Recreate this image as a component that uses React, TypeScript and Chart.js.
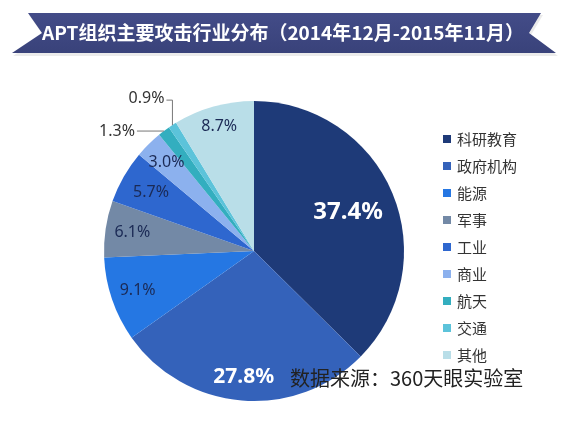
import React, { useEffect, useRef } from "react";
import { Chart, registerables } from "chart.js";

Chart.register(...registerables);

const TITLE = "APT组织主要攻击行业分布（2014年12月-2015年11月）";
const SOURCE = "数据来源：360天眼实验室";
const categories = ["科研教育", "政府机构", "能源", "军事", "工业", "商业", "航天", "交通", "其他"];
const shares = [37.4, 27.8, 9.1, 6.1, 5.7, 3.0, 1.3, 0.9, 8.7];
const colors = ["#1E3A78", "#3462BA", "#2577E3", "#7389A6", "#2E67CF", "#8CB1EE", "#33AEBF", "#5CC3DA", "#B9DEE8"];

// label styling per slice
const labelRadius = [0.68, 0.84, 0.82, 0.82, 0.79, 0.83, 1, 1, 0.86];
const labelColor = ["#FFFFFF", "#FFFFFF", "#1B2A55", "#1B2A55", "#1B2A55", "#1B2A55", "#333333", "#333333", "#1B2A55"];
const NUMF = "'Noto Sans', 'Open Sans', sans-serif";
const labelFont = [
  "bold 24px " + NUMF,
  "bold 21px " + NUMF,
  "16px " + NUMF,
  "16px " + NUMF,
  "16px " + NUMF,
  "16px " + NUMF,
  "16px " + NUMF,
  "16px " + NUMF,
  "16px " + NUMF,
];
// leader style: 0 inside, 1 horizontal-left, 2 up then left
const leaderKind = [0, 0, 0, 0, 0, 0, 1, 2, 0];

const CJK = "'Noto Sans CJK SC', 'Noto Sans', sans-serif";

const bannerPlugin = {
  id: "banner",
  beforeDraw(chart: any) {
    const ctx = chart.ctx;
    ctx.save();
    ctx.fillStyle = "#ffffff";
    ctx.fillRect(0, 0, chart.width, chart.height);
    // shadow
    ctx.fillStyle = "rgba(0,0,0,0.08)";
    ctx.beginPath();
    ctx.moveTo(29, 15);
    ctx.lineTo(543, 15);
    ctx.lineTo(531, 35);
    ctx.lineTo(558, 56);
    ctx.lineTo(13, 56);
    ctx.lineTo(43, 35);
    ctx.closePath();
    ctx.fill();
    const g = ctx.createLinearGradient(0, 13, 0, 53);
    g.addColorStop(0, "#434C88");
    g.addColorStop(1, "#39427A");
    ctx.fillStyle = g;
    ctx.beginPath();
    ctx.moveTo(28, 13);
    ctx.lineTo(541, 13);
    ctx.lineTo(529, 33);
    ctx.lineTo(556, 53);
    ctx.lineTo(12, 53);
    ctx.lineTo(42, 33);
    ctx.closePath();
    ctx.fill();
    ctx.fillStyle = "#ffffff";
    ctx.font = "bold 19px " + CJK;
    ctx.textAlign = "center";
    ctx.textBaseline = "middle";
    ctx.fillText(TITLE, 283, 33);
    ctx.restore();
  },
};

const labelPlugin = {
  id: "sliceLabels",
  afterDatasetsDraw(chart: any) {
    const ctx = chart.ctx;
    const meta = chart.getDatasetMeta(0);
    ctx.save();
    meta.data.forEach((arc: any, i: number) => {
      const p = arc.getProps(["x", "y", "startAngle", "endAngle", "outerRadius"], true);
      const mid = (p.startAngle + p.endAngle) / 2;
      const r = p.outerRadius * labelRadius[i];
      const x = p.x + Math.cos(mid) * r;
      const y = p.y + Math.sin(mid) * r;
      const text = shares[i].toFixed(1) + "%";
      ctx.font = labelFont[i];
      ctx.fillStyle = labelColor[i];
      ctx.textBaseline = "middle";
      if (leaderKind[i] === 0) {
        ctx.textAlign = "center";
        ctx.fillText(text, x, y);
      } else {
        ctx.strokeStyle = "#777777";
        ctx.lineWidth = 1;
        ctx.beginPath();
        ctx.moveTo(x, y);
        let tx = x, ty = y;
        if (leaderKind[i] === 1) {
          ctx.lineTo(x - 27, y);
          tx = x - 29;
        } else {
          ctx.lineTo(x, y - 25);
          ctx.lineTo(x - 6, y - 25);
          tx = x - 8;
          ty = y - 27;
        }
        ctx.stroke();
        ctx.textAlign = "right";
        ctx.fillText(text, tx, ty);
      }
    });
    ctx.restore();
  },
  afterDraw(chart: any) {
    const ctx = chart.ctx;
    ctx.save();
    // legend
    ctx.textBaseline = "middle";
    ctx.textAlign = "left";
    ctx.font = "15px " + CJK;
    categories.forEach((c, i) => {
      const y = 139 + i * 27;
      ctx.fillStyle = colors[i];
      ctx.fillRect(443, y - 4, 8, 8);
      ctx.fillStyle = "#333333";
      ctx.fillText(c, 457, y);
    });
    // source
    ctx.font = "20px " + CJK;
    ctx.fillStyle = "#222222";
    ctx.fillText(SOURCE, 290, 378);
    ctx.restore();
  },
};

export default function App() {
  const ref = useRef<HTMLCanvasElement>(null);
  useEffect(() => {
    if (!ref.current) return;
    const chart = new Chart(ref.current, {
      type: "pie",
      data: {
        labels: categories,
        datasets: [
          {
            data: shares,
            backgroundColor: colors,
            borderWidth: 0,
          },
        ],
      },
      options: {
        responsive: false,
        animation: false,
        layout: { padding: { top: 101, bottom: 34, left: 104, right: 177 } },
        plugins: { legend: { display: false }, tooltip: { enabled: false } },
      },
      plugins: [bannerPlugin, labelPlugin],
    });
    return () => chart.destroy();
  }, []);
  return (
    <div style={{ position: "fixed", left: 0, top: 0, width: 581, height: 435, background: "#fff" }}>
      <canvas ref={ref} width={581} height={435} style={{ display: "block", width: 581, height: 435 }} />
    </div>
  );
}
